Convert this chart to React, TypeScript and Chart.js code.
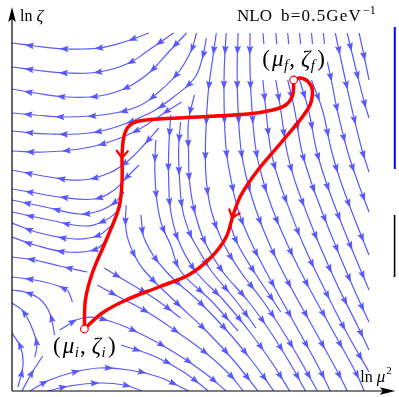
import React, { useEffect, useRef } from 'react';
import { Chart, registerables } from 'chart.js';

Chart.register(...registerables);

type Pt = [number, number];

// Plot ranges (ln μ² horizontally, ln ζ vertically, plot units)
const X_RANGE: Pt = [0, 38.5];
const Y_RANGE: Pt = [0, 38];

// ---- Streamlines of the evolution field, listed in flow direction ----
const flowA1: Pt[] = [[13.8, 35.8], [11.3, 34.9], [8.8, 34.3], [5.5, 34.2], [2.3, 34.5], [0, 34.8]];
const flowA2: Pt[] = [[16.3, 35.8], [13.8, 34.1], [11.8, 32.8], [8.8, 31.9], [5.5, 31.8], [2.3, 32.1], [0, 32.4]];
const flowA3: Pt[] = [[17.6, 35.8], [15.8, 33.9], [13.8, 31.8], [11.5, 30.3], [8.8, 29.5], [5.5, 29.4], [2.3, 29.8], [0, 30.2]];
const flowA4: Pt[] = [[18.6, 35.8], [18.1, 34.1], [16.8, 31.9], [14.8, 29.9], [12.8, 28.5], [9.8, 27.7], [5.5, 27.4], [2.3, 27.6], [0, 27.8]];
const flowA5: Pt[] = [[19.6, 35.3], [19.2, 33.3], [18.4, 31.3], [16.3, 29.4], [14.1, 27.9], [10.8, 26.5], [7.8, 25.8], [3.8, 25.7], [0, 26.0]];
const flowA6: Pt[] = [[17.1, 28.9], [15.8, 28.1], [14.3, 27.1], [12.3, 25.9], [9.8, 24.9], [6.8, 24.2], [3.3, 23.9], [0, 24.0]];
const flowA7: Pt[] = [[14.8, 26.3], [13.3, 24.6], [11.8, 23.1], [9.8, 21.8], [7.1, 21.1], [3.8, 21.4], [0, 22.1]];
const flowA8: Pt[] = [[12.8, 22.6], [11.6, 21.4], [10.3, 20.1], [8.3, 19.2], [4.8, 19.4], [1.8, 19.9], [0, 20.2]];
const flowA9: Pt[] = [[11.3, 19.9], [10.3, 18.8], [8.8, 18.0], [6.8, 17.7], [3.8, 18.3], [0, 19.1]];
const flowA10: Pt[] = [[10.6, 17.9], [9.3, 17.0], [7.3, 16.5], [3.8, 17.1], [0, 17.9]];
const flowA11: Pt[] = [[10.0, 16.5], [8.6, 15.5], [6.3, 15.2], [2.8, 15.8], [0, 16.8]];
const flowA12: Pt[] = [[9.6, 15.1], [8.3, 14.1], [5.5, 13.9], [2.3, 14.6], [0, 15.4]];
const flowA13: Pt[] = [[7.6, 11.9], [4.8, 12.5], [2.3, 13.1], [0, 13.4]];
const flowA14: Pt[] = [[6.1, 8.9], [5.5, 10.1], [2.8, 11.0], [0, 11.4]];
const flowA15: Pt[] = [[4.3, 5.6], [3.8, 7.8], [2.8, 9.2], [1.3, 9.9], [0, 10.1]];
const flowA16: Pt[] = [[2.3, 3.4], [2.5, 4.6], [2.1, 6.1], [1.1, 8.0], [0, 8.8]];

const flowB1: Pt[] = [[0.6, 0.4], [1.1, 2.5], [0.9, 4.3], [0, 5.8]];
const flowB2: Pt[] = [[1.0, 0], [2.0, 1.8], [3.1, 3.5]];
const flowB3: Pt[] = [[1.8, 0], [3.8, 1.1], [6.3, 1.9], [8.8, 2.3], [11.8, 2.1], [14.8, 1.4], [17.8, 0]];
const flowB4: Pt[] = [[3.6, 0], [5.8, 0.5], [8.8, 0.8], [11.3, 0.6], [13.1, 0]];
const flowB7: Pt[] = [[4.8, 6.1], [7.1, 7.3], [9.5, 7.1], [12.8, 5.8], [16.3, 3.9], [19.3, 1.9], [21.6, 0]];
const flowB8: Pt[] = [[11.0, 4.6], [14.3, 3.5], [17.3, 1.9], [19.8, 0]];

const flowM1: Pt[] = [[8.6, 10.6], [10.8, 9.4], [13.8, 7.8], [16.8, 5.8], [19.8, 3.6], [22.0, 1.6], [23.3, 0]];
const flowM2: Pt[] = [[9.3, 12.3], [11.3, 11.1], [14.3, 9.3], [17.0, 7.3]];
const flowL1: Pt[] = [[11.5, 18.6], [11.5, 16.1], [12.1, 14.1], [13.3, 12.1], [16.4, 9.0], [19.6, 6.0], [22.4, 3.0], [24.8, 0]];
const flowL2: Pt[] = [[13.0, 17.6], [13.4, 15.1], [15.5, 12.0], [18.8, 9.0], [21.7, 6.0], [24.2, 3.0], [26.4, 0]];
const flowL3: Pt[] = [[16.0, 27.6], [15.8, 24.0], [15.8, 21.0], [16.0, 18.0], [16.8, 15.0], [18.5, 12.0], [21.4, 9.0], [23.9, 6.0], [26.1, 3.0], [28.0, 0]];
const flowL4: Pt[] = [[18.4, 29.6], [17.8, 27.0], [17.8, 24.0], [17.9, 21.0], [18.4, 18.0], [19.4, 15.0], [21.2, 12.0], [23.8, 9.0], [26.0, 6.0], [27.9, 3.0], [29.6, 0]];
const flowL5: Pt[] = [[20.6, 35.8], [20.2, 33.0], [19.8, 30.0], [19.6, 27.0], [19.5, 24.0], [19.6, 21.0], [20.1, 18.0], [21.2, 15.0], [23.0, 12.0], [25.3, 9.0], [27.3, 6.0], [29.1, 3.0], [30.8, 0]];
const flowS1: Pt[] = [[17.0, 26.9], [16.8, 24.1], [16.9, 21.1], [17.2, 18.1], [18.0, 15.6], [19.0, 13.8], [20.1, 12.0], [22.6, 9.0], [24.6, 6.3]];
const flowS2: Pt[] = [[14.5, 25.1], [14.4, 22.1], [14.6, 19.1], [15.1, 16.6], [16.0, 14.6], [17.0, 12.0], [20.1, 9.0], [22.8, 6.0]];
const flowS3: Pt[] = [[22.0, 16.6], [22.8, 14.6], [24.3, 12.1], [26.3, 9.1], [27.1, 7.9]];

const flowC1: Pt[] = [[21.6, 35.8], [21.4, 32.1], [21.4, 28.1], [21.6, 24.1], [22.1, 21.1], [22.8, 18.1], [24.0, 15.1], [25.8, 11.6], [28.3, 7.1], [30.8, 2.6], [32.1, 0]];
const flowC2: Pt[] = [[22.8, 35.8], [22.7, 32.1], [22.8, 28.1], [23.1, 24.1], [23.7, 21.1], [24.6, 18.1], [26.0, 14.6], [28.0, 10.6], [30.5, 6.1], [33.0, 1.6], [33.8, 0]];
const flowC3: Pt[] = [[24.0, 35.8], [24.0, 32.1], [24.2, 28.1], [24.6, 24.1], [25.3, 21.1], [26.3, 18.1], [27.8, 14.6], [29.8, 10.6], [32.3, 6.1], [34.8, 1.6], [35.5, 0]];
const flowC4: Pt[] = [[25.3, 31.1], [25.6, 28.1], [26.1, 24.1], [26.9, 21.1], [28.0, 18.1], [29.4, 14.6], [31.3, 10.6], [33.6, 6.1], [36.0, 1.9]];
const flowC5: Pt[] = [[26.6, 31.1], [27.1, 28.1], [27.7, 24.1], [28.5, 21.1], [29.6, 18.1], [31.0, 14.6], [32.8, 10.6], [34.8, 6.6], [36.0, 4.1]];
const flowC6: Pt[] = [[27.8, 31.1], [28.5, 28.1], [29.2, 24.1], [30.1, 21.1], [31.2, 18.1], [32.6, 14.6], [34.3, 10.6], [36.0, 6.9]];
const flowC7: Pt[] = [[29.0, 31.1], [29.9, 28.1], [30.7, 24.1], [31.6, 21.1], [32.7, 18.1], [34.1, 14.6], [36.0, 10.1]];
const flowC8: Pt[] = [[30.2, 31.1], [31.3, 28.1], [32.2, 24.1], [33.1, 21.1], [34.2, 18.1], [36.0, 13.6]];
const flowC9: Pt[] = [[31.8, 32.9], [32.2, 31.1], [32.8, 28.1], [33.8, 24.1], [34.8, 21.1], [36.0, 17.9]];
const flowC10: Pt[] = [[32.6, 35.8], [33.4, 32.1], [34.3, 28.1], [35.3, 24.1], [36.0, 21.9]];
const flowC11: Pt[] = [[33.8, 35.8], [34.7, 32.1], [35.6, 28.6], [36.0, 27.3]];
const flowC12: Pt[] = [[35.0, 35.8], [35.8, 32.1], [36.0, 31.1]];

const stub1: Pt[] = [[25.3, 35.8], [25.4, 34.7]];
const stub2: Pt[] = [[26.6, 35.8], [26.7, 34.7]];
const stub3: Pt[] = [[27.8, 35.8], [27.9, 34.7]];
const stub4: Pt[] = [[29.0, 35.8], [29.1, 34.7]];
const stub5: Pt[] = [[30.2, 35.8], [30.3, 34.7]];
const stub6: Pt[] = [[31.4, 35.8], [31.5, 34.7]];

const streamlines: Pt[][] = [
  flowA1, flowA2, flowA3, flowA4, flowA5, flowA6, flowA7, flowA8, flowA9, flowA10,
  flowA11, flowA12, flowA13, flowA14, flowA15, flowA16,
  flowB1, flowB2, flowB3, flowB4, flowB7, flowB8,
  flowM1, flowM2, flowL1, flowL2, flowL3, flowL4, flowL5, flowS1, flowS2, flowS3,
  flowC1, flowC2, flowC3, flowC4, flowC5, flowC6, flowC7, flowC8, flowC9, flowC10, flowC11, flowC12,
  stub1, stub2, stub3, stub4, stub5, stub6,
];

// ---- Evolution paths from (mu_f, zeta_f) to (mu_i, zeta_i) ----
const pathLeft: Pt[] = [[28.4, 31.1], [28.3, 29.6], [27.6, 28.6], [26.3, 28.1], [23.8, 27.7], [16.8, 27.3], [12.8, 27.0], [11.8, 26.5], [11.3, 25.5], [11.1, 23.6], [11.1, 21.1], [10.8, 18.4], [9.5, 15.1], [8.1, 11.8], [7.4, 9.1], [7.3, 6.2]];
const pathRight: Pt[] = [[28.4, 31.1], [29.1, 31.3], [29.9, 30.9], [30.3, 30.0], [29.9, 28.3], [27.1, 24.8], [24.8, 22.1], [23.1, 19.6], [22.3, 17.6], [21.6, 15.4], [20.1, 13.4], [17.8, 11.6], [14.8, 10.4], [11.5, 9.1], [9.1, 7.8], [7.3, 6.2]];
const chevronLeftIndex = 9;
const chevronRightIndex = 8;

const finalPoint: Pt = [28.4, 31.1];
const initialPoint: Pt = [7.3, 6.2];

const finalSub = 'f';
const initialSub = 'i';
const orderLabel = 'NLO';
const bLabel = 'b=0.5GeV';
const bExp = '−1';
const yAxisName = 'ln ';
const yAxisSym = 'ζ';
const xAxisName = 'ln ';
const xAxisSym = 'μ';
const xAxisExp = '2';

const STREAM_COLOR = '#5858ff';
const RED = '#ff0000';
const SERIF = '"Liberation Serif", "DejaVu Serif", serif';
const ARROW_GAP = 34;

type XY = { x: number; y: number };

function samplePath(meta: any): XY[] {
  const pts = meta.data as any[];
  const out: XY[] = [];
  for (let i = 0; i < pts.length - 1; i++) {
    const a = pts[i];
    const b = pts[i + 1];
    const c1x = a.cp2x ?? a.x, c1y = a.cp2y ?? a.y;
    const c2x = b.cp1x ?? b.x, c2y = b.cp1y ?? b.y;
    const N = 14;
    for (let k = i === 0 ? 0 : 1; k <= N; k++) {
      const t = k / N, u = 1 - t;
      out.push({
        x: u * u * u * a.x + 3 * u * u * t * c1x + 3 * u * t * t * c2x + t * t * t * b.x,
        y: u * u * u * a.y + 3 * u * u * t * c1y + 3 * u * t * t * c2y + t * t * t * b.y,
      });
    }
  }
  return out;
}

function polyLength(poly: XY[]) {
  let L = 0;
  for (let i = 0; i < poly.length - 1; i++) L += Math.hypot(poly[i + 1].x - poly[i].x, poly[i + 1].y - poly[i].y);
  return L;
}

function locate(poly: XY[], dist: number) {
  let acc = 0;
  for (let i = 0; i < poly.length - 1; i++) {
    const dx = poly[i + 1].x - poly[i].x;
    const dy = poly[i + 1].y - poly[i].y;
    const l = Math.hypot(dx, dy);
    if (l > 0 && acc + l >= dist) {
      const f = (dist - acc) / l;
      return { x: poly[i].x + dx * f, y: poly[i].y + dy * f, ux: dx / l, uy: dy / l };
    }
    acc += l;
  }
  return null;
}

const decorPlugin = {
  id: 'decor',
  afterDatasetDraw(chart: any, args: any) {
    const ds = chart.data.datasets[args.index];
    const ctx = chart.ctx as CanvasRenderingContext2D;
    if (ds.label === 'flow') {
      const poly = samplePath(args.meta);
      const L = polyLength(poly);
      if (L < 22) return;
      const n = Math.max(1, Math.round(L / ARROW_GAP));
      ctx.save();
      ctx.fillStyle = STREAM_COLOR;
      for (let i = 0; i < n; i++) {
        const p = locate(poly, ((i + 0.5) * L) / n);
        if (!p) continue;
        const nx = -p.uy, ny = p.ux;
        const tipX = p.x + p.ux * 4.5, tipY = p.y + p.uy * 4.5;
        const bx = p.x - p.ux * 4.5, by = p.y - p.uy * 4.5;
        ctx.beginPath();
        ctx.moveTo(tipX, tipY);
        ctx.lineTo(bx + nx * 3.3, by + ny * 3.3);
        ctx.lineTo(p.x - p.ux * 3, p.y - p.uy * 3);
        ctx.lineTo(bx - nx * 3.3, by - ny * 3.3);
        ctx.closePath();
        ctx.fill();
      }
      ctx.restore();
    } else if (ds.label === 'path-left' || ds.label === 'path-right') {
      const idx = ds.label === 'path-left' ? chevronLeftIndex : chevronRightIndex;
      const pt = args.meta.data[idx] as any;
      if (!pt) return;
      let ux = (pt.cp2x ?? pt.x) - (pt.cp1x ?? pt.x);
      let uy = (pt.cp2y ?? pt.y) - (pt.cp1y ?? pt.y);
      const l = Math.hypot(ux, uy) || 1;
      ux /= l; uy /= l;
      const nx = -uy, ny = ux;
      const tx = pt.x + ux * 3, ty = pt.y + uy * 3;
      ctx.save();
      ctx.strokeStyle = RED;
      ctx.lineWidth = 2.2;
      ctx.lineCap = 'round';
      ctx.beginPath();
      ctx.moveTo(tx - ux * 7 + nx * 5.5, ty - uy * 7 + ny * 5.5);
      ctx.lineTo(tx, ty);
      ctx.lineTo(tx - ux * 7 - nx * 5.5, ty - uy * 7 - ny * 5.5);
      ctx.stroke();
      ctx.restore();
    }
  },
  afterDraw(chart: any) {
    const ctx = chart.ctx as CanvasRenderingContext2D;
    const area = chart.chartArea;
    const xs = chart.scales.x;
    const ys = chart.scales.y;
    ctx.save();
    // axes with arrow heads
    ctx.strokeStyle = '#000';
    ctx.fillStyle = '#000';
    ctx.lineWidth = 1.2;
    const ox = area.left, oy = area.bottom;
    ctx.beginPath();
    ctx.moveTo(ox, oy);
    ctx.lineTo(ox, area.top + 6);
    ctx.moveTo(ox, oy);
    ctx.lineTo(area.right - 8, oy);
    ctx.stroke();
    ctx.beginPath();
    ctx.moveTo(ox, area.top - 4);
    ctx.lineTo(ox - 3.8, area.top + 11);
    ctx.lineTo(ox, area.top + 8);
    ctx.lineTo(ox + 3.8, area.top + 11);
    ctx.closePath();
    ctx.fill();
    ctx.beginPath();
    ctx.moveTo(area.right + 1.5, oy);
    ctx.lineTo(area.right - 14, oy - 3.8);
    ctx.lineTo(area.right - 11, oy);
    ctx.lineTo(area.right - 14, oy + 3.8);
    ctx.closePath();
    ctx.fill();

    // colour-bar fragments at right edge
    ctx.fillStyle = '#0000ff';
    ctx.fillRect(area.right, area.top + 16, 2, 142);
    ctx.fillStyle = '#000';
    ctx.fillRect(area.right, area.top + 204, 1.6, 62);

    // axis names
    ctx.fillStyle = '#000';
    ctx.textBaseline = 'alphabetic';
    ctx.textAlign = 'left';
    ctx.font = `16px ${SERIF}`;
    ctx.fillText(yAxisName, ox + 8, area.top + 10);
    const w = ctx.measureText(yAxisName).width;
    ctx.font = `italic 17px ${SERIF}`;
    ctx.fillText(yAxisSym, ox + 8 + w, area.top + 10);

    ctx.font = `16px ${SERIF}`;
    const wName = ctx.measureText(xAxisName).width;
    ctx.font = `italic 17px ${SERIF}`;
    const wSym = ctx.measureText(xAxisSym).width;
    ctx.font = `11px ${SERIF}`;
    const wExp = ctx.measureText(xAxisExp).width;
    const x0 = area.right - 2 - (wName + wSym + 1 + wExp);
    const bl = oy - 9;
    ctx.font = `16px ${SERIF}`;
    ctx.fillText(xAxisName, x0, bl);
    ctx.font = `italic 17px ${SERIF}`;
    ctx.fillText(xAxisSym, x0 + wName, bl);
    ctx.font = `11px ${SERIF}`;
    ctx.fillText(xAxisExp, x0 + wName + wSym + 1, bl - 8);

    // title
    ctx.font = `17px ${SERIF}`;
    ctx.fillText(orderLabel, area.left + 225, area.top + 10);
    (ctx as any).letterSpacing = '1.2px';
    ctx.fillText(bLabel, area.left + 269, area.top + 10);
    const wb = ctx.measureText(bLabel).width;
    (ctx as any).letterSpacing = '0px';
    ctx.font = `12px ${SERIF}`;
    ctx.fillText(bExp, area.left + 270 + wb, area.top + 3);

    // point labels
    const drawPair = (cx: number, baseline: number, sub: string) => {
      const parts = [
        { t: '(', f: `23px ${SERIF}`, dy: 0, g: 2 },
        { t: 'μ', f: `italic 23px ${SERIF}`, dy: 0, g: 0.5 },
        { t: sub, f: `italic 15px ${SERIF}`, dy: 4, g: 1 },
        { t: ',', f: `23px ${SERIF}`, dy: 0, g: 6 },
        { t: 'ζ', f: `italic 23px ${SERIF}`, dy: 0, g: 0.5 },
        { t: sub, f: `italic 15px ${SERIF}`, dy: 4, g: 2.5 },
        { t: ')', f: `23px ${SERIF}`, dy: 0, g: 0 },
      ];
      let total = 0;
      const widths = parts.map((p) => {
        ctx.font = p.f;
        const ww = ctx.measureText(p.t).width + p.g;
        total += ww;
        return ww;
      });
      let x = cx - total / 2;
      parts.forEach((p, i) => {
        ctx.font = p.f;
        ctx.fillText(p.t, x, baseline + p.dy);
        x += widths[i];
      });
    };
    const fx = xs.getPixelForValue(finalPoint[0]);
    const fy = ys.getPixelForValue(finalPoint[1]);
    drawPair(fx, fy - 14, finalSub);
    const ix = xs.getPixelForValue(initialPoint[0]);
    const iy = ys.getPixelForValue(initialPoint[1]);
    drawPair(ix, iy + 24, initialSub);
    ctx.restore();
  },
};

const toXY = (a: Pt[]) => a.map(([x, y]) => ({ x, y }));

export default function App() {
  const ref = useRef<HTMLCanvasElement | null>(null);
  useEffect(() => {
    if (!ref.current) return;
    const flowSets = streamlines.map((line) => ({
      label: 'flow',
      data: toXY(line),
      showLine: true,
      borderColor: STREAM_COLOR,
      borderWidth: 1.2,
      pointRadius: 0,
      tension: 0.4,
      order: 3,
    }));
    const chart = new Chart(ref.current, {
      type: 'scatter',
      data: {
        datasets: [
          ...flowSets,
          {
            label: 'path-left',
            data: toXY(pathLeft),
            showLine: true,
            borderColor: RED,
            borderWidth: 3.5,
            pointRadius: 0,
            tension: 0.35,
            order: 1,
          },
          {
            label: 'path-right',
            data: toXY(pathRight),
            showLine: true,
            borderColor: RED,
            borderWidth: 3.5,
            pointRadius: 0,
            tension: 0.35,
            order: 1,
          },
          {
            label: 'ends',
            data: toXY([finalPoint, initialPoint]),
            showLine: false,
            pointRadius: 3.8,
            pointBorderWidth: 1.2,
            pointBackgroundColor: '#ffffff',
            pointBorderColor: RED,
            order: 0,
          },
        ] as any,
      },
      options: {
        animation: false,
        responsive: false,
        devicePixelRatio: 1,
        events: [],
        layout: { padding: { left: 12, right: 2, top: 11, bottom: 6 } },
        plugins: { legend: { display: false }, tooltip: { enabled: false } },
        scales: {
          x: { type: 'linear', min: X_RANGE[0], max: X_RANGE[1], display: false },
          y: { type: 'linear', min: Y_RANGE[0], max: Y_RANGE[1], display: false },
        },
      },
      plugins: [decorPlugin as any],
    });
    return () => chart.destroy();
  }, []);
  return (
    <div style={{ position: 'fixed', left: 0, top: 0, width: 399, height: 397, background: '#fff' }}>
      <canvas ref={ref} width={399} height={397} style={{ display: 'block', width: 399, height: 397 }} />
    </div>
  );
}
